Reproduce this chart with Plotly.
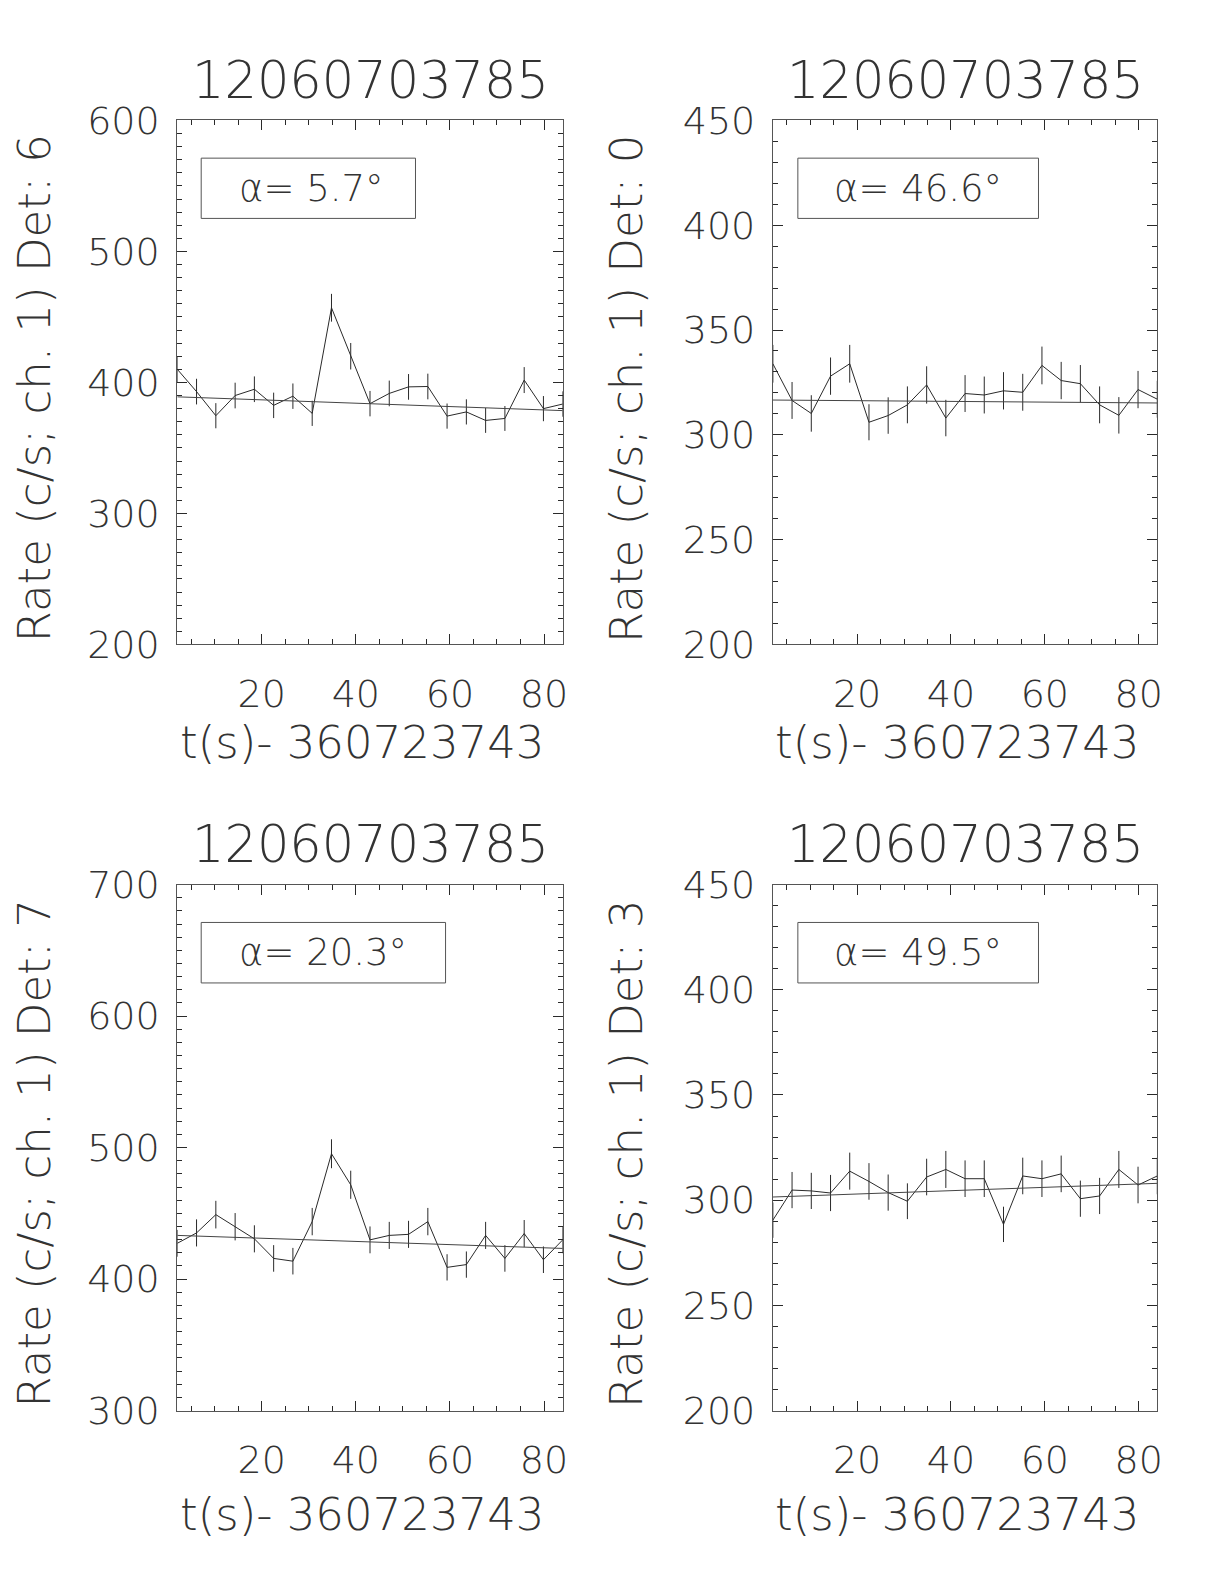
import plotly.graph_objects as go

# ---------------- data ----------------
t = [2.05, 6.14, 10.24, 14.34, 18.43, 22.53, 26.62, 30.72, 34.82, 38.91, 43.01,
     47.10, 51.20, 55.30, 59.39, 63.49, 67.58, 71.68, 75.78, 79.87, 83.97]

rate_det6 = [410.0, 393.0, 374.6, 390.0, 394.8, 382.5, 389.5, 376.4, 457.0, 420.0, 383.8,
             391.6, 396.6, 396.9, 374.3, 377.5, 371.0, 372.5, 401.8, 380.0, 383.5]
err_det6 = [10.0, 9.8, 9.6, 9.8, 9.8, 9.7, 9.7, 9.6, 10.6, 10.1, 9.7,
            9.8, 9.8, 9.8, 9.6, 9.6, 9.5, 9.5, 9.9, 9.6, 9.7]
fit_det6 = [389.0, 378.5]

rate_det0 = [333.9, 316.4, 310.2, 328.0, 333.9, 306.0, 309.2, 314.3, 323.8, 308.0, 319.7,
             319.0, 321.0, 320.3, 333.1, 325.9, 324.4, 314.3, 309.3, 321.6, 317.0]
err_det0 = [9.0, 8.8, 8.7, 8.9, 9.0, 8.6, 8.7, 8.8, 8.9, 8.7, 8.8,
            8.8, 8.9, 8.8, 9.0, 8.9, 8.9, 8.8, 8.7, 8.9, 8.8]
fit_det0 = [316.6, 315.2]

rate_det7 = [427.2, 435.1, 449.0, 439.8, 430.6, 415.7, 413.6, 443.7, 495.3, 471.7, 429.8,
             433.2, 434.0, 443.7, 408.9, 411.0, 433.2, 415.7, 434.6, 414.7, 429.8]
err_det7 = [10.2, 10.3, 10.5, 10.4, 10.3, 10.1, 10.1, 10.4, 11.0, 10.7, 10.2,
            10.3, 10.3, 10.4, 10.0, 10.0, 10.3, 10.1, 10.3, 10.1, 10.2]
fit_det7 = [433.2, 423.3]

rate_det3 = [290.5, 304.8, 304.4, 303.4, 313.8, 308.9, 303.6, 299.5, 311.0, 314.6, 310.2,
             310.2, 288.5, 311.5, 310.2, 312.5, 300.7, 302.0, 314.6, 307.2, 311.5]
err_det3 = [8.4, 8.6, 8.6, 8.6, 8.8, 8.7, 8.6, 8.5, 8.7, 8.8, 8.7,
            8.7, 8.4, 8.7, 8.7, 8.7, 8.6, 8.6, 8.8, 8.7, 8.7]
fit_det3 = [301.5, 308.0]

burst_id = "12060703785"
t_offset_label = "t(s)- 360723743"
detectors = ["6", "0", "7", "3"]
alphas = ["5.7", "46.6", "20.3", "49.5"]
y_ranges = [[200, 600], [200, 450], [300, 700], [200, 450]]
y_dticks = [100, 50, 100, 50]

rates = [rate_det6, rate_det0, rate_det7, rate_det3]
errs = [err_det6, err_det0, err_det7, err_det3]
fits = [fit_det6, fit_det0, fit_det7, fit_det3]

# ---------------- layout geometry (pixels, layout coordinates) ----------------
W, H = 1224, 1584
col_px = [(170, 557), (768, 1154)]
row_px = [(93, 632), (879, 1420)]
ytitle_px = [27, 621]
title_px = [52, 838]
xtitle_px = [733, 1527]
box_x = [(0.062, 0.618), (0.065, 0.691), (0.062, 0.696), (0.065, 0.691)]

INK = "#2a2a2a"
FRAME = "#555555"
TXT = "#333333"
FONT = "DejaVu Sans"

fig = go.Figure()
annotations = []
shapes = []

for i in range(4):
    r, c = divmod(i, 2)
    n = "" if i == 0 else str(i + 1)
    xa, ya = "x" + n, "y" + n
    x0, x1 = col_px[c]
    y0, y1 = row_px[r]
    xdom = [x0 / W, x1 / W]
    ydom = [1 - y1 / H, 1 - y0 / H]

    fig.add_trace(go.Scatter(
        x=t, y=rates[i], mode="lines",
        line=dict(color=INK, width=1),
        error_y=dict(type="data", array=errs[i], visible=True,
                     color=INK, thickness=1, width=0),
        xaxis=xa, yaxis=ya, showlegend=False, hoverinfo="skip"))
    fig.add_trace(go.Scatter(
        x=[t[0], t[-1]], y=fits[i], mode="lines",
        line=dict(color="#444444", width=1),
        xaxis=xa, yaxis=ya, showlegend=False, hoverinfo="skip"))

    axis_common = dict(
        showline=True, linecolor=FRAME, linewidth=1, mirror="allticks",
        ticks="inside", tickcolor=INK, tickwidth=1, showgrid=False, zeroline=False,
        tickfont=dict(family=FONT, size=38, color=TXT, weight=200),
    )
    fig.layout["xaxis" + n] = dict(
        domain=xdom, anchor=ya, range=[t[0], t[-1]],
        tick0=0, dtick=20, ticklen=10, ticklabelstandoff=16,
        minor=dict(ticks="inside", dtick=5, tick0=0, ticklen=5, tickcolor=INK, showgrid=False),
        **axis_common)
    fig.layout["yaxis" + n] = dict(
        domain=ydom, anchor=xa, range=y_ranges[i],
        tick0=0, dtick=y_dticks[i], ticklen=10, ticklabelstandoff=9,
        minor=dict(ticks="inside", dtick=10, tick0=0, ticklen=5, tickcolor=INK, showgrid=False),
        **axis_common)

    # panel title
    annotations.append(dict(
        text=burst_id, xref=xa + " domain", x=0.5, yref="paper", y=1 - title_px[r] / H,
        xanchor="center", yanchor="middle", showarrow=False,
        font=dict(family=FONT, size=51, color=TXT, weight=200)))
    # x-axis title
    annotations.append(dict(
        text=t_offset_label, xref=xa + " domain", x=0.5, xshift=-8,
        yref="paper", y=1 - xtitle_px[r] / H,
        xanchor="center", yanchor="middle", showarrow=False,
        font=dict(family=FONT, size=45, color=TXT, weight=200)))
    # y-axis title
    annotations.append(dict(
        text="Rate (c/s; ch. 1) Det: " + detectors[i], xref="paper", x=ytitle_px[c] / W,
        yref=ya + " domain", y=0.5, yshift=-6, textangle=-90,
        xanchor="center", yanchor="middle", showarrow=False,
        font=dict(family=FONT, size=45, color=TXT, weight=200)))
    # alpha box
    shapes.append(dict(
        type="rect", xref=xa + " domain", yref=ya + " domain",
        x0=box_x[i][0], x1=box_x[i][1], y0=0.813, y1=0.928,
        line=dict(color=FRAME, width=1), fillcolor="rgba(0,0,0,0)"))
    annotations.append(dict(
        text="\u03b1= " + alphas[i] + "\u00b0", xref=xa + " domain", x=0.155,
        yref=ya + " domain", y=0.870, xanchor="left", yanchor="middle", showarrow=False,
        font=dict(family=FONT, size=37, color=TXT, weight=200)))

fig.update_layout(
    width=W, height=H, margin=dict(l=0, r=0, t=0, b=0),
    paper_bgcolor="white", plot_bgcolor="white",
    annotations=annotations, shapes=shapes, showlegend=False)

fig.write_html("out.html")
